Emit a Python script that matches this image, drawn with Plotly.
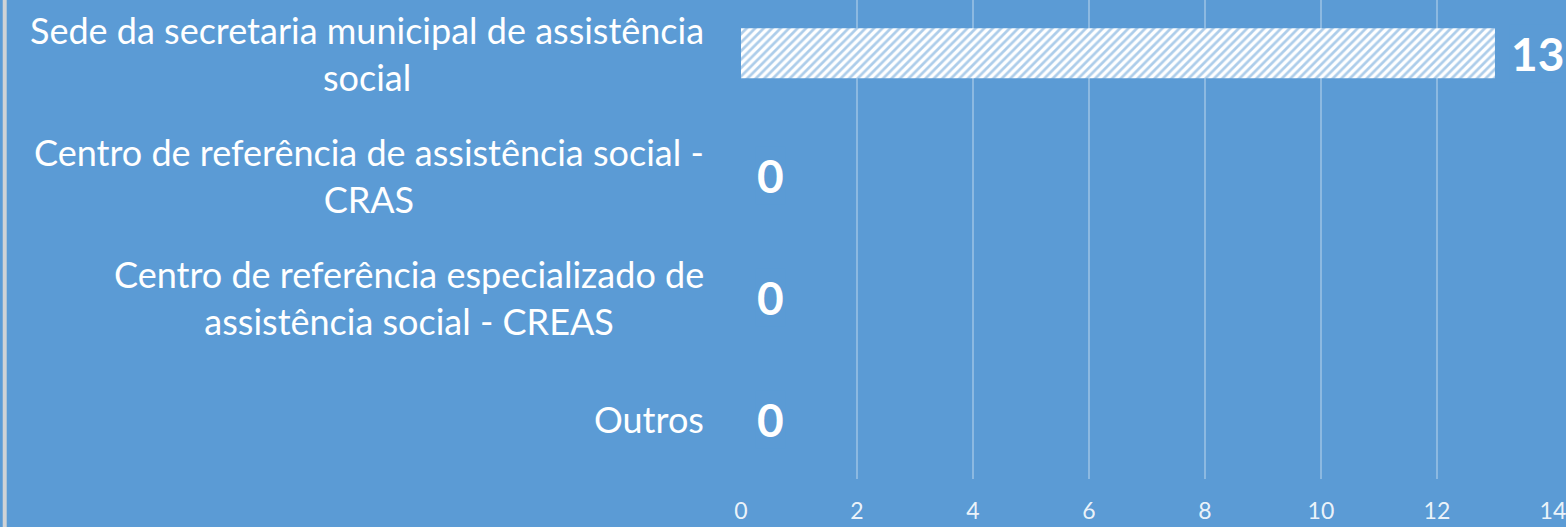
import plotly.graph_objects as go

categories = [
    "Sede da secretaria municipal de assistência<br>social",
    "Centro de referência de assistência social -<br>CRAS",
    "Centro de referência especializado de<br>assistência social - CREAS",
    "Outros",
]
values = [13, 0, 0, 0]
tick_vals = [0, 2, 4, 6, 8, 10, 12, 14]

BG = "#5B9BD5"
FONT = "Lato"

W, H = 1566, 527
ML, MR, MT, MB = 741, 10, 0, 48
PW = W - ML - MR

fig = go.Figure()
fig.add_trace(go.Bar(
    x=values,
    y=list(range(len(categories))),
    orientation="h",
    width=0.41,
    marker=dict(
        color="white",
        line=dict(width=0),
        pattern=dict(shape="/", fgcolor=BG, bgcolor="white", size=6, solidity=0.45),
    ),
    hoverinfo="skip",
))

annotations = []
for i, (cat, v) in enumerate(zip(categories, values)):
    annotations.append(dict(
        x=-(ML - 706) / PW, xref="paper", y=i, yref="y",
        text=cat, showarrow=False, xanchor="right", yanchor="middle",
        align="center", font=dict(family=FONT, size=36, color="white"),
    ))
    annotations.append(dict(
        x=v, xref="x", y=i, yref="y", text=str(v), showarrow=False,
        xanchor="left", yanchor="middle", xshift=14, bgcolor=BG,
        font=dict(family=FONT, size=46, color="white", weight="bold"),
    ))

fig.update_layout(
    width=W, height=H,
    margin=dict(l=ML, r=MR, t=MT, b=MB),
    paper_bgcolor=BG, plot_bgcolor=BG,
    showlegend=False,
    annotations=annotations,
    shapes=[dict(type="rect", xref="paper", yref="paper",
                 x0=-ML / PW, x1=-(ML - 4) / PW, y0=-MB / (H - MT - MB), y1=1,
                 fillcolor="#D0D3D6", line=dict(width=0), layer="above")],
    xaxis=dict(
        range=[0, 14.001], tickvals=tick_vals, ticktext=[str(t) for t in tick_vals],
        showgrid=True, gridcolor="rgba(255,255,255,0.3)", gridwidth=1.5,
        zeroline=False, showline=False, ticks="",
        tickfont=dict(family=FONT, size=23, color="rgba(255,255,255,0.9)"),
        ticklabelstandoff=16, ticklabeloverflow="allow",
    ),
    yaxis=dict(
        range=[3.49, -0.436], showticklabels=False, showgrid=False,
        zeroline=False, showline=False, ticks="",
    ),
)

fig.write_html(
    "out.html",
    config={"displayModeBar": False},
    post_script="document.body.style.margin='0';document.body.style.overflow='hidden';",
)
